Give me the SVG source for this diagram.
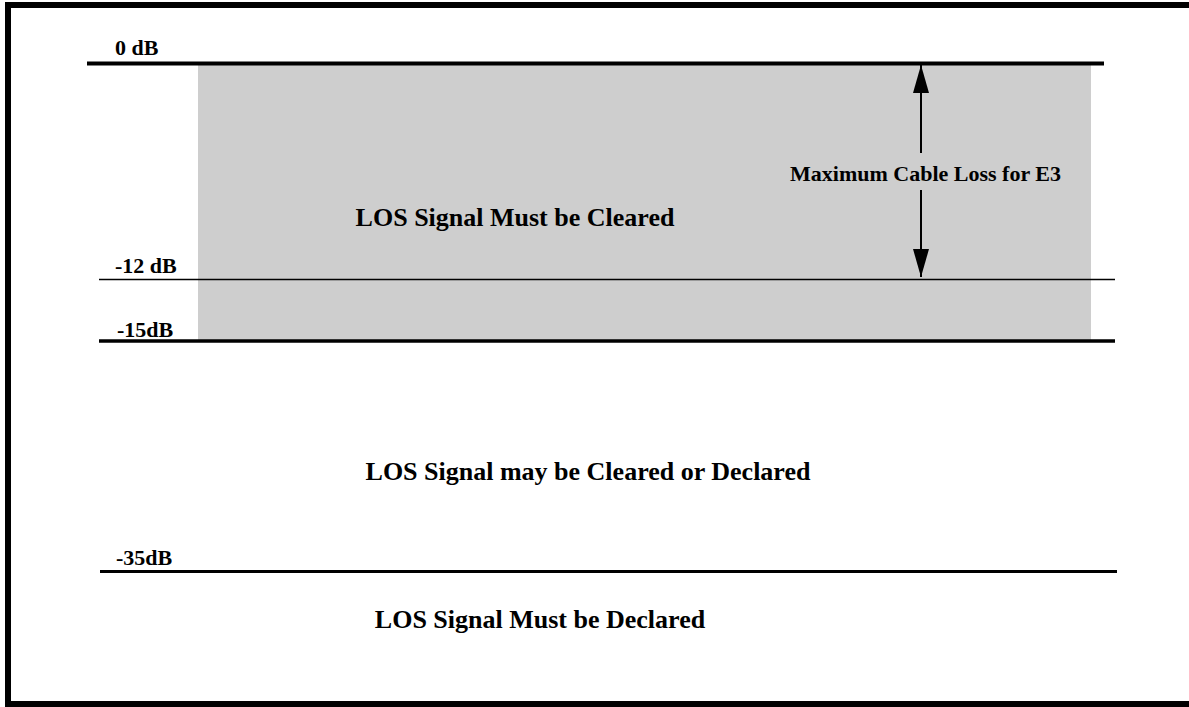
<svg xmlns="http://www.w3.org/2000/svg" width="1189" height="707" viewBox="0 0 1189 707">
<style>
.lbl{font-family:"Liberation Serif","Times New Roman",serif;font-weight:bold;font-size:22px;fill:#000}
.big{font-family:"Liberation Serif","Times New Roman",serif;font-weight:bold;font-size:26px;fill:#000}
.ln{stroke:#000;fill:none}
</style>
<defs>
<marker id="ah" viewBox="0 0 16 28" refX="16" refY="8" markerWidth="16" markerHeight="28" markerUnits="userSpaceOnUse" orient="auto">
<path d="M0,0 L28,8 L0,16 Z" transform="scale(1)"/>
</marker>
<marker id="head" viewBox="0 0 28 16" refX="28" refY="8" markerWidth="28" markerHeight="16" markerUnits="userSpaceOnUse" orient="auto">
<path d="M0,0 L28,8 L0,16 Z" fill="#000"/>
</marker>
</defs>
<rect width="1189" height="707" fill="#fff"/>
<g id="frame">
<path class="ln" d="M8,707 V5 H1189" stroke-width="6"/>
<path class="ln" d="M5,704 H1189" stroke-width="6"/>
</g>
<g id="zone-cleared">
<rect x="198" y="65" width="893" height="275" fill="#cecece"/>
<text class="big" x="515" y="226" text-anchor="middle">LOS Signal Must be Cleared</text>
</g>
<g id="levels">
<line class="ln" x1="87" y1="63.5" x2="1104" y2="63.5" stroke-width="4"/>
<line class="ln" x1="99" y1="279.5" x2="1115" y2="279.5" stroke-width="1.5"/>
<line class="ln" x1="99" y1="341" x2="1115" y2="341" stroke-width="3.5"/>
<line class="ln" x1="100" y1="571.5" x2="1117" y2="571.5" stroke-width="3"/>
<text class="lbl" x="115" y="55">0 dB</text>
<text class="lbl" x="115" y="273">-12 dB</text>
<text class="lbl" x="117" y="337">-15dB</text>
<text class="lbl" x="116" y="565">-35dB</text>
</g>
<g id="zone-may">
<text class="big" x="588" y="480" text-anchor="middle">LOS Signal may be Cleared or Declared</text>
</g>
<g id="zone-declared">
<text class="big" x="540" y="628" text-anchor="middle">LOS Signal Must be Declared</text>
</g>
<g id="connectors">
<line class="ln" x1="921" y1="153" x2="921" y2="65" stroke-width="2" marker-end="url(#head)"/>
<line class="ln" x1="921" y1="190" x2="921" y2="277" stroke-width="2" marker-end="url(#head)"/>
</g>
<g id="cable-loss">
<text class="lbl" x="790" y="181">Maximum Cable Loss for E3</text>
</g>
</svg>
